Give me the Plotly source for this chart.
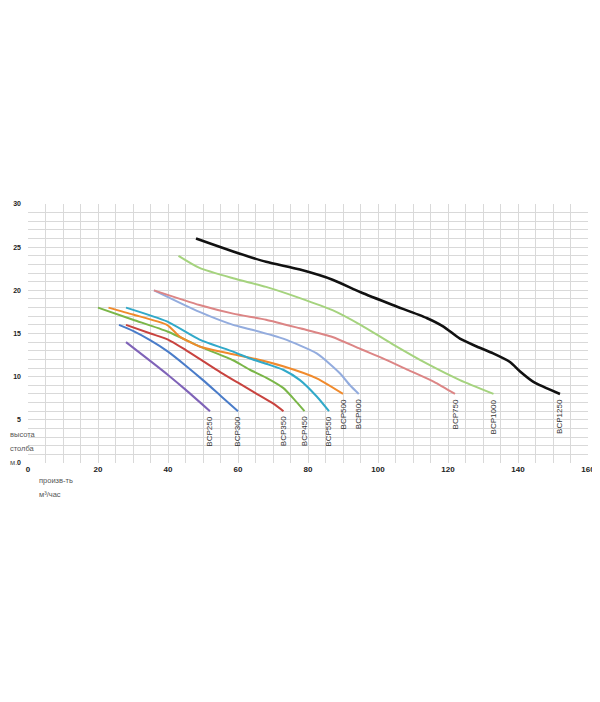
import plotly.graph_objects as go

# pump curves: flow (m3/h) vs head (m)
models = ["BCP250", "BCP300", "BCP350", "BCP450", "BCP500",
          "BCP550", "BCP600", "BCP750", "BCP1000", "BCP1250"]
colors = ["#7f63b8", "#4a7cc9", "#c8433f", "#7ab648", "#f08a2c",
          "#31a9c9", "#93acde", "#dc8585", "#a5d37e", "#111111"]

flow_250 = [28, 35, 40, 45, 52]
head_250 = [14, 11.8, 10.2, 8.5, 6]

flow_300 = [26, 30, 35, 40, 45, 50, 55, 60]
head_300 = [16, 15.3, 14.2, 12.9, 11.3, 9.6, 7.8, 6]

flow_350 = [28, 35, 40, 45, 50, 55, 60, 65, 70, 73]
head_350 = [16, 15, 14.3, 13.1, 11.8, 10.5, 9.3, 8.1, 6.9, 6]

flow_450 = [20, 30, 40, 49, 58.6, 63.4, 68, 72.9, 76, 79]
head_450 = [18, 16.6, 15.2, 13.5, 11.9, 10.8, 9.9, 8.7, 7.4, 6]

flow_500 = [23, 30, 39.7, 43.5, 49, 58.6, 63.4, 72.9, 82.5, 90]
head_500 = [18, 17.2, 16.0, 14.6, 13.5, 12.6, 12.2, 11.2, 9.8, 8]

flow_550 = [28, 39.7, 49, 58.6, 63.4, 68, 72.9, 77.7, 82.5, 86]
head_550 = [18, 16.4, 14.3, 12.9, 12.1, 11.5, 10.8, 9.6, 7.7, 6]

flow_600 = [36, 49, 58.6, 63.4, 72.9, 82.5, 89.1, 92, 94.5]
head_600 = [20, 17.5, 16.0, 15.5, 14.4, 12.7, 10.4, 9.0, 8]

flow_750 = [36, 49, 58.6, 68, 77.7, 87, 95, 102, 109, 116, 122]
head_750 = [20, 18.3, 17.3, 16.6, 15.6, 14.6, 13.2, 12.0, 10.7, 9.4, 8]

flow_1000 = [43, 49, 58.6, 68, 77.7, 87, 95, 104, 114, 123.4, 133]
head_1000 = [24, 22.6, 21.4, 20.4, 19.1, 17.7, 16.0, 13.8, 11.5, 9.6, 8]

flow_1250 = [48, 58.6, 68, 77.7, 87.2, 94.9, 104.2, 113.9, 118.7, 123.4,
             128.2, 132.9, 137.7, 140.6, 144.4, 152]
head_1250 = [26, 24.5, 23.3, 22.4, 21.2, 19.8, 18.3, 16.8, 15.8, 14.4,
             13.5, 12.7, 11.7, 10.6, 9.4, 8]

flows = [flow_250, flow_300, flow_350, flow_450, flow_500,
         flow_550, flow_600, flow_750, flow_1000, flow_1250]
heads = [head_250, head_300, head_350, head_450, head_500,
         head_550, head_600, head_750, head_1000, head_1250]

x_ticks = [0, 20, 40, 60, 80, 100, 120, 140, 160]
y_ticks = [0, 5, 10, 15, 20, 25, 30]

fig = go.Figure()
for name, col, xs, ys in zip(models, colors, flows, heads):
    fig.add_trace(go.Scatter(x=xs, y=ys, mode="lines", name=name,
                             line=dict(color=col, width=2.6 if name == "BCP1250" else 2,
                                       shape="spline", smoothing=0.6),
                             hoverinfo="skip"))
    # model name rotated under the end of each curve
    fig.add_annotation(x=xs[-1], y=ys[-1] - 0.4, text=name, textangle=-90,
                       showarrow=False, xanchor="center", yanchor="top",
                       font=dict(family="Liberation Sans", size=8, color="#333"))

grid = "#d9d9d9"
fig.update_xaxes(range=[0, 160], tickvals=x_ticks,
                 ticktext=["<b>%d</b>" % v for v in x_ticks],
                 showline=False, zeroline=False, automargin=False,
                 showgrid=True, gridcolor=grid, gridwidth=1,
                 minor=dict(dtick=5, showgrid=True, gridcolor=grid, gridwidth=1),
                 tickfont=dict(family="Liberation Sans", size=8, color="#222"),
                 ticks="", fixedrange=True)
fig.update_yaxes(range=[0, 30], tickvals=y_ticks,
                 ticktext=["<b>%d</b>" % v for v in y_ticks],
                 showline=False, zeroline=False, automargin=False,
                 showgrid=True, gridcolor=grid, gridwidth=1,
                 minor=dict(dtick=1, showgrid=True, gridcolor=grid, gridwidth=1),
                 tickfont=dict(family="Liberation Sans", size=7, color="#222"),
                 ticks="", ticklabelstandoff=6, fixedrange=True)

# axis captions
cap = dict(family="Liberation Sans", size=7.5, color="#555")
for txt, yy in [("высота", 3.25), ("столба", 1.65), ("м.", 0.1)]:
    fig.add_annotation(xref="paper", x=-0.0357, y=yy, xanchor="left",
                       yanchor="middle", showarrow=False, text=txt, font=cap)
for txt, yy in [("произв-ть", -0.066), ("м³/час", -0.12)]:
    fig.add_annotation(yref="paper", x=2.6, y=yy, xanchor="left",
                       yanchor="middle", showarrow=False, text=txt, font=cap)

# page body adds an 8px offset, so margins are shifted to match
fig.update_layout(width=600, height=702, showlegend=False,
                  paper_bgcolor="white", plot_bgcolor="white",
                  margin=dict(l=20, r=20, t=196, b=247))

fig.write_html("out.html")
